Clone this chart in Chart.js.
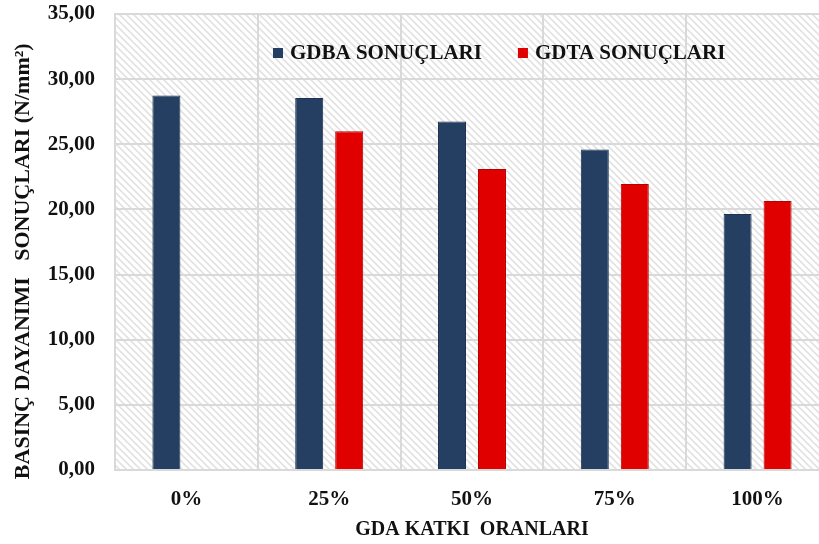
<!DOCTYPE html>
<html>
<head>
<meta charset="utf-8">
<script src="https://cdn.jsdelivr.net/npm/chart.js@4.4.1/dist/chart.umd.min.js"></script>
<style>
    html, body { margin: 0; padding: 0; background: #fff; overflow: hidden; }
    #wrap { width: 830px; height: 544px; }
</style>
</head>
<body>
<div id="wrap"><canvas id="chart" width="830" height="544"></canvas></div>
<script>
// ---- data ----
const categories = ['0%', '25%', '50%', '75%', '100%'];
const seriesNames = ['GDBA SONUÇLARI', 'GDTA SONUÇLARI'];
const gdbaValues = [28.75, 28.55, 26.75, 24.6, 19.65];
const gdtaValues = [null, 26.0, 23.1, 21.95, 20.65];
const yTickLabels = ['0,00', '5,00', '10,00', '15,00', '20,00', '25,00', '30,00', '35,00'];

const SERIF = '"Liberation Serif", "DejaVu Serif", serif';

// diagonal hatch used behind the plot
function makeHatch() {
    const c = document.createElement('canvas');
    c.width = 7; c.height = 7;
    const g = c.getContext('2d');
    g.fillStyle = '#ffffff';
    g.fillRect(0, 0, 7, 7);
    g.strokeStyle = '#e2e2e2';
    g.lineWidth = 1.6;
    g.beginPath();
    g.moveTo(-1, -1); g.lineTo(8, 8);
    g.moveTo(-1, 6); g.lineTo(1, 8);
    g.moveTo(6, -1); g.lineTo(8, 1);
    g.stroke();
    return g.createPattern(c, 'repeat');
}

const hatchBackground = {
    id: 'hatchBackground',
    beforeDraw(chart) {
        const { ctx, chartArea: a } = chart;
        ctx.save();
        ctx.fillStyle = '#ffffff';
        ctx.fillRect(0, 0, chart.width, chart.height);
        ctx.fillStyle = makeHatch();
        ctx.fillRect(a.left, a.top, a.right - a.left, a.bottom - a.top);
        ctx.restore();
    }
};

// legend drawn inside the plot area, like the original
const insideLegend = {
    id: 'insideLegend',
    afterDraw(chart) {
        const { ctx, chartArea: a } = chart;
        let x = a.left + 158;
        const y = a.top + 39;
        ctx.save();
        ctx.font = 'bold 21px ' + SERIF;
        ctx.textBaseline = 'middle';
        chart.data.datasets.forEach(ds => {
            ctx.fillStyle = ds.backgroundColor;
            ctx.fillRect(x, y - 5, 10, 10);
            ctx.fillStyle = '#111';
            ctx.fillText(ds.label, x + 17, y + 1);
            x += 17 + ctx.measureText(ds.label).width + 36;
        });
        ctx.restore();
    }
};

new Chart(document.getElementById('chart').getContext('2d'), {
    type: 'bar',
    data: {
        labels: categories,
        datasets: [
            {
                label: seriesNames[0],
                data: gdbaValues,
                backgroundColor: '#243f62',
                borderColor: '#1c3352',
                borderWidth: 1
            },
            {
                label: seriesNames[1],
                data: gdtaValues,
                backgroundColor: '#e00000',
                borderColor: '#b80000',
                borderWidth: 1
            }
        ]
    },
    options: {
        responsive: false,
        animation: false,
        devicePixelRatio: 1,
        categoryPercentage: 0.56,
        barPercentage: 0.7,
        layout: { padding: { left: 0, top: 14, right: 1, bottom: 0 } },
        plugins: {
            legend: { display: false },
            tooltip: { enabled: false }
        },
        scales: {
            x: {
                grid: { color: '#d9d9d9', lineWidth: 2, drawTicks: false },
                border: { color: '#d9d9d9', width: 2 },
                ticks: {
                    color: '#111',
                    padding: 17,
                    font: { family: SERIF, size: 21, weight: 'bold' }
                },
                title: {
                    display: true,
                    text: 'GDA KATKI  ORANLARI',
                    color: '#111',
                    padding: { top: 4, bottom: 2 },
                    font: { family: SERIF, size: 20, weight: 'bold' }
                },
                afterFit(scale) { scale.height = 74; }
            },
            y: {
                min: 0,
                max: 35,
                ticks: {
                    stepSize: 5,
                    color: '#111',
                    padding: 20,
                    font: { family: SERIF, size: 21, weight: 'bold' },
                    callback: (v, i) => yTickLabels[i]
                },
                grid: { color: '#d9d9d9', lineWidth: 2, drawTicks: false },
                border: { color: '#d9d9d9', width: 2 },
                title: {
                    display: true,
                    text: 'BASINÇ DAYANIMI   SONUÇLARI (N/mm²)       ',
                    color: '#111',
                    padding: { top: 10, bottom: 10 },
                    font: { family: SERIF, size: 22, weight: 'bold' }
                },
                afterFit(scale) {
                    scale.width = 115;
                    scale.paddingTop = 0;
                    scale.paddingBottom = 0;
                }
            }
        }
    },
    plugins: [hatchBackground, insideLegend]
});
</script>
</body>
</html>
